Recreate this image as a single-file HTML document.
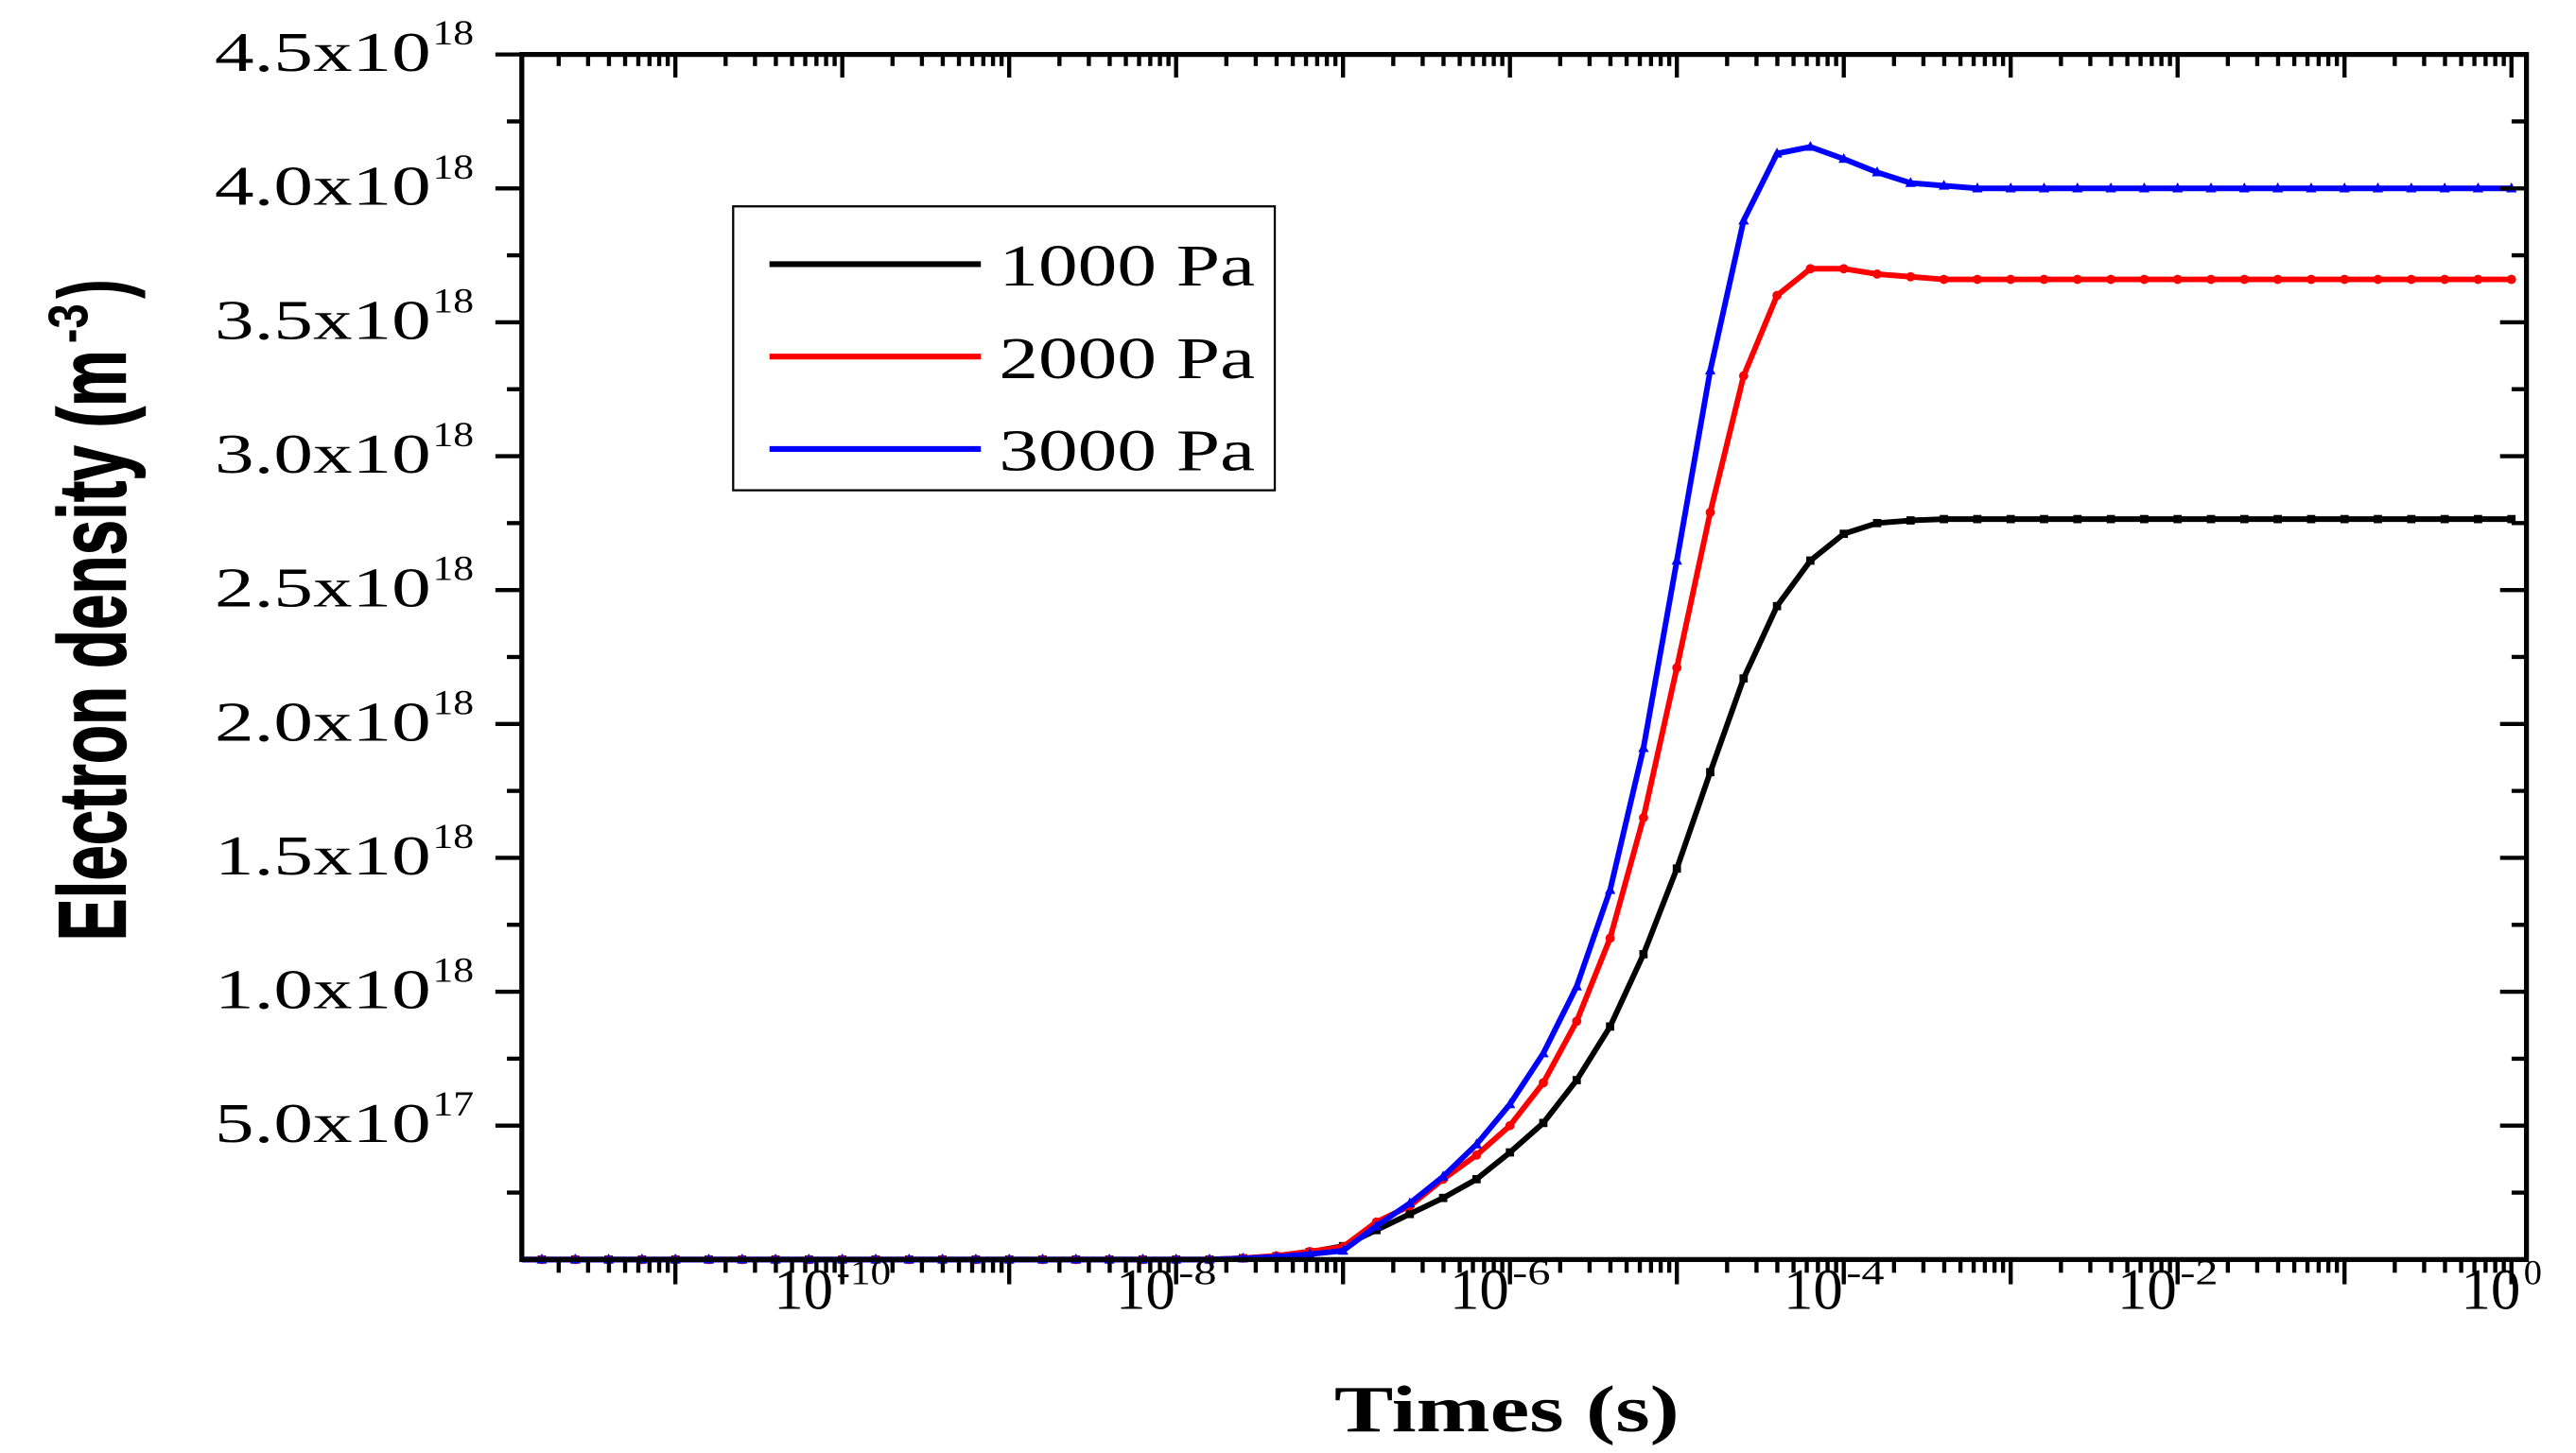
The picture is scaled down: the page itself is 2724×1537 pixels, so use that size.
<!DOCTYPE html>
<html><head><meta charset="utf-8"><style>
html,body{margin:0;padding:0;background:#fff;}
svg{display:block;}
</style></head><body>
<svg id="chart" xmlns="http://www.w3.org/2000/svg" width="2724" height="1537" viewBox="0 0 1560 880.2" preserveAspectRatio="none">
<rect x="0" y="0" width="1560" height="880.2" fill="#fff"/>
<g id="plot"></g>
<g id="axes"></g>
<text x="808" y="867" font-family="Liberation Serif, serif" font-weight="bold" font-size="40" textLength="209" lengthAdjust="spacingAndGlyphs">Times (s)</text>
<g transform="translate(76,570) rotate(-90)" font-family="Liberation Sans, sans-serif" font-weight="bold">
<text x="0" y="0" font-size="58" textLength="358" lengthAdjust="spacingAndGlyphs" stroke="#000" stroke-width="0.8">Electron density (m</text>
<text x="362" y="-23" font-size="34" textLength="24" lengthAdjust="spacingAndGlyphs">-3</text>
<text x="389" y="0" font-size="58" textLength="12" lengthAdjust="spacingAndGlyphs">)</text>
</g>
<g>
<rect x="444" y="125" width="328" height="172" fill="#fff" stroke="#000" stroke-width="1.3"/>
<line x1="466" y1="160" x2="594" y2="160" stroke="#000" stroke-width="3.5"/>
<text x="605" y="173" font-family="Liberation Serif, serif" font-size="36" textLength="155" lengthAdjust="spacingAndGlyphs">1000 Pa</text>
<line x1="466" y1="216" x2="594" y2="216" stroke="#f00" stroke-width="3.5"/>
<text x="605" y="229" font-family="Liberation Serif, serif" font-size="36" textLength="155" lengthAdjust="spacingAndGlyphs">2000 Pa</text>
<line x1="466" y1="272" x2="594" y2="272" stroke="#00f" stroke-width="3.5"/>
<text x="605" y="285" font-family="Liberation Serif, serif" font-size="36" textLength="155" lengthAdjust="spacingAndGlyphs">3000 Pa</text>
</g>
</svg>
<script>
// log10(time) samples
var logTimes = [-11.8,-11.6,-11.4,-11.2,-11.0,-10.8,-10.6,-10.4,-10.2,-10.0,-9.8,-9.6,-9.4,-9.2,-9.0,-8.8,-8.6,-8.4,-8.2,-8.0,-7.8,
 -7.6,-7.4,-7.2,-7.0,-6.8,-6.6,-6.4,-6.2,-6.0,-5.8,-5.6,-5.4,-5.2,-5.0,-4.8,-4.6,-4.4,-4.2,-4.0,-3.8,-3.6,
 -3.4,-3.2,-3.0,-2.8,-2.6,-2.4,-2.2,-2.0,-1.8,-1.6,-1.4,-1.2,-1.0,-0.8,-0.6,-0.4,-0.2,0.0];
// electron density in 1e18 m^-3
var density1000 = [0,0,0,0,0,0,0,0,0,0,0,0,0,0,0,0,0,0,0,0,0,
 0.005,0.012,0.028,0.05,0.11,0.17,0.23,0.30,0.40,0.51,0.67,0.87,1.14,1.46,1.82,2.17,2.44,2.61,2.71,2.75,2.76,
 2.765,2.765,2.765,2.765,2.765,2.765,2.765,2.765,2.765,2.765,2.765,2.765,2.765,2.765,2.765,2.765,2.765,2.765];
var density2000 = [0,0,0,0,0,0,0,0,0,0,0,0,0,0,0,0,0,0,0,0,0,
 0.005,0.014,0.03,0.047,0.14,0.20,0.30,0.39,0.50,0.66,0.89,1.20,1.65,2.21,2.79,3.30,3.60,3.70,3.70,3.68,3.67,
 3.66,3.66,3.66,3.66,3.66,3.66,3.66,3.66,3.66,3.66,3.66,3.66,3.66,3.66,3.66,3.66,3.66,3.66];
var density3000 = [0,0,0,0,0,0,0,0,0,0,0,0,0,0,0,0,0,0,0,0,0,
 0.004,0.01,0.02,0.033,0.125,0.21,0.31,0.43,0.58,0.77,1.02,1.38,1.91,2.61,3.32,3.88,4.13,4.155,4.11,4.06,4.02,
 4.01,4.0,4.0,4.0,4.0,4.0,4.0,4.0,4.0,4.0,4.0,4.0,4.0,4.0,4.0,4.0,4.0,4.0];
var yTickValues = [0.5,1.0,1.5,2.0,2.5,3.0,3.5,4.0,4.5];
var yTickMantissas = ["5.0","1.0","1.5","2.0","2.5","3.0","3.5","4.0","4.5"];
var yTickExponents = ["17","18","18","18","18","18","18","18","18"];
var xTickDecades = [-10,-8,-6,-4,-2,0];
var xTickExponents = ["-10","-8","-6","-4","-2","0"];

var NS="http://www.w3.org/2000/svg";
var L=316,R=1530,T=33,B=763;
var LOGMIN=-11.92,LOGMAX=0.09;
function xs(lg){return L+(lg-LOGMIN)/(LOGMAX-LOGMIN)*(R-L);}
function ys(v){return B-v/4.5*(B-T);}
function mk(tag,attrs,parent){var e=document.createElementNS(NS,tag);for(var k in attrs)e.setAttribute(k,attrs[k]);parent.appendChild(e);return e;}
var plot=document.getElementById('plot'),axes=document.getElementById('axes');

function series(vals,color,name,shape){
  var g=mk('g',{},plot);
  
  
  var d='M'+L+','+ys(vals[0]);
  for(var i=0;i<logTimes.length;i++){d+=' L'+xs(logTimes[i]).toFixed(2)+','+ys(vals[i]).toFixed(2);}
  var p=mk('path',{d:d,fill:'none',stroke:color,'stroke-width':3.4,'stroke-linejoin':'round'},g);
  
  
  for(var i=0;i<logTimes.length;i++){
    var x=xs(logTimes[i]),y=ys(vals[i]),m;
    if(shape==='sq'){m=mk('rect',{x:x-2.5,y:y-2.5,width:5,height:5,fill:color},g);}
    else if(shape==='ci'){m=mk('circle',{cx:x,cy:y,r:2.8,fill:color},g);}
    else{m=mk('polygon',{points:(x)+','+(y-3.6)+' '+(x-3.2)+','+(y+2.4)+' '+(x+3.2)+','+(y+2.4),fill:color},g);}
    
    
  }
}
series(density1000,'#000','series-1000pa','sq');
series(density2000,'#f00','series-2000pa','ci');
series(density3000,'#00f','series-3000pa','tri');

var fr=mk('rect',{x:L,y:T,width:R-L,height:B-T,fill:'none',stroke:'#000','stroke-width':3},axes);



for(var v=0.25;v<4.5;v+=0.25){
  var major=Math.abs(v*2-Math.round(v*2))<1e-6;
  var y=ys(v),len=major?16:9;
  var t1=mk('line',{x1:L-len,y1:y,x2:L,y2:y,stroke:'#000','stroke-width':2.5},axes);
  
  
  var t2=mk('line',{x1:R-len,y1:y,x2:R,y2:y,stroke:'#000','stroke-width':2.5},axes);
  
  
}
var t0=mk('line',{x1:L-16,y1:T,x2:L,y2:T,stroke:'#000','stroke-width':2.5},axes);



for(var i=0;i<yTickValues.length;i++){
  var y=ys(yTickValues[i]);
  var a=mk('text',{x:130,y:y+10,'font-family':'Liberation Serif, serif','font-size':34,textLength:131,lengthAdjust:'spacingAndGlyphs'},axes);
  a.textContent=yTickMantissas[i]+'x10';
  
  
  var b=mk('text',{x:262,y:y-6,'font-family':'Liberation Serif, serif','font-size':21,textLength:25,lengthAdjust:'spacingAndGlyphs'},axes);
  b.textContent=yTickExponents[i];
  
  
}

for(var dec=-12;dec<=0;dec++){
  for(var k=1;k<=9;k++){
    var lg=dec+Math.log10(k);
    if(lg<LOGMIN||lg>LOGMAX)continue;
    var x=xs(lg),maj=(k===1);
    var bt=mk('line',{x1:x,y1:B,x2:x,y2:B+(maj?15:8),stroke:'#000','stroke-width':2.5},axes);
    
    
    var tt=mk('line',{x1:x,y1:T,x2:x,y2:T+(maj?14:7),stroke:'#000','stroke-width':2.5},axes);
    
    
  }
}
for(var i=0;i<xTickDecades.length;i++){
  var x=xs(xTickDecades[i]);
  var ex=xTickExponents[i];
  var ew=ex.length===3?33:(ex.length===2?23:11);
  var w=38+ew, x0=x-6-w/2;
  var a=mk('text',{x:x0,y:793,'font-family':'Liberation Serif, serif','font-size':35,textLength:36,lengthAdjust:'spacingAndGlyphs'},axes);
  a.textContent='10';
  
  
  var b=mk('text',{x:x0+38,y:778,'font-family':'Liberation Serif, serif','font-size':21,textLength:ew,lengthAdjust:'spacingAndGlyphs'},axes);
  b.textContent=ex;
  
  
}
</script>
</body></html>
